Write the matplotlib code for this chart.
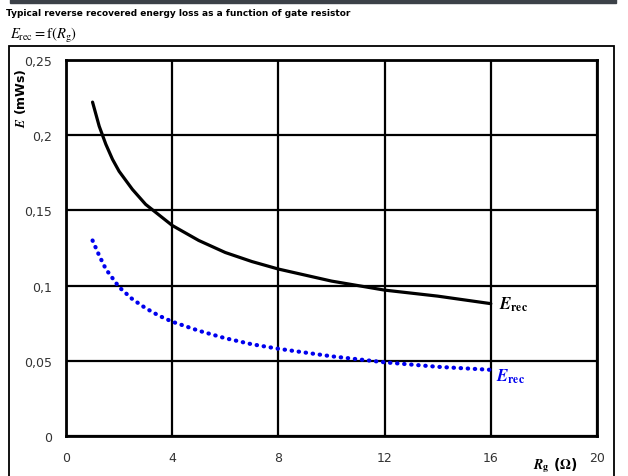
import matplotlib
matplotlib.use("Agg")
import matplotlib.pyplot as plt
from matplotlib.patches import Rectangle

plt.rcParams["mathtext.fontset"] = "stix"

# gate resistor (Ohm)
rg = [1, 1.25, 1.5, 1.75, 2, 2.5, 3, 3.5, 4, 5, 6, 7, 8, 10, 12, 14, 16]
# reverse recovered energy, two curves (mWs)
erec_black = [0.222, 0.206, 0.194, 0.184, 0.176, 0.164, 0.154, 0.147, 0.140,
              0.130, 0.122, 0.116, 0.111, 0.103, 0.097, 0.093, 0.088]
erec_blue = [0.130, 0.120, 0.111, 0.105, 0.099, 0.091, 0.085, 0.080, 0.076,
             0.070, 0.065, 0.061, 0.058, 0.053, 0.049, 0.046, 0.044]

x_ticks = [0, 4, 8, 12, 16, 20]
y_ticks = [0, 0.05, 0.1, 0.15, 0.2, 0.25]
y_tick_labels = ["0", "0,05", "0,1", "0,15", "0,2", "0,25"]

W, H = 628, 477
fig = plt.figure(figsize=(W / 100, H / 100), dpi=100)

# header bar + outer frame
fig.patches.append(Rectangle((10 / W, 1 - 4 / H), 606 / W, 4 / H,
                             transform=fig.transFigure, color="#3c4148"))
fig.patches.append(Rectangle((9 / W, -0.01), 605 / W, 1 - 47 / H + 0.01,
                             transform=fig.transFigure, fill=False,
                             edgecolor="black", lw=1.3))

fig.text(6 / W, 1 - 13 / H,
         "Typical reverse recovered energy loss as a function of gate resistor",
         fontsize=6.5, fontweight="bold", va="center", ha="left", color="black")
fig.text(10 / W, 1 - 36 / H, r"$E_{\rm rec} = {\rm f}(R_{\rm g})$",
         fontsize=10.5, va="center", ha="left")

ax = fig.add_axes([66 / W, 1 - 437 / H, 531 / W, 376 / H])
ax.plot(rg, erec_black, color="black", lw=2.3, solid_capstyle="round")
ax.plot(rg, erec_blue, color="#0000ee", lw=3, linestyle=(0, (0.1, 1.6)),
        dash_capstyle="round")

ax.set_xlim(0, 20)
ax.set_ylim(0, 0.25)
ax.set_xticks(x_ticks)
ax.set_yticks(y_ticks)
ax.set_yticklabels(y_tick_labels)
ax.tick_params(length=0, labelsize=9, labelcolor="#333333")
ax.tick_params(axis="x", pad=11)
ax.tick_params(axis="y", pad=10)
ax.grid(True, color="black", lw=1.6)
for s in ax.spines.values():
    s.set_linewidth(2)

ax.text(16.3, 0.088, r"$\mathbfit{E}_{\mathbf{rec}}$", fontsize=12,
        va="center", ha="left", color="black")
ax.text(16.2, 0.040, r"$\mathbfit{E}_{\mathbf{rec}}$", fontsize=12,
        va="center", ha="left", color="#0000ee")

fig.text(20 / W, 1 - 98 / H, r"$\mathbfit{E}$ (mWs)", rotation=90,
         fontsize=9, fontweight="bold", ha="center", va="center")
fig.text(555 / W, 1 - 466 / H, r"$\mathbfit{R}_{\mathbf{g}}$ ($\mathbf{\Omega}$)",
         fontsize=10, fontweight="bold", ha="center", va="center")

fig.savefig("out.png", dpi=100)
